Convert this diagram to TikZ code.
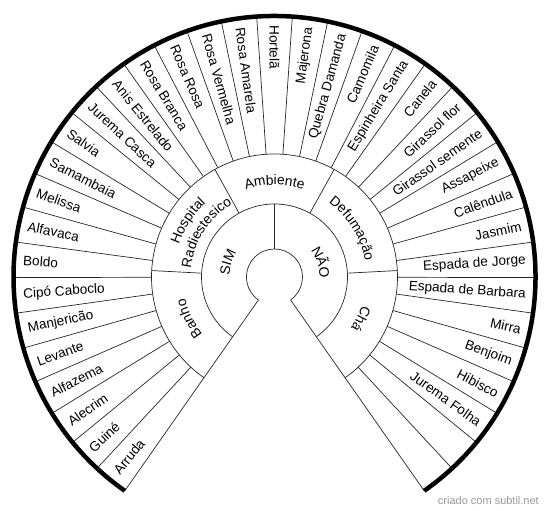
\documentclass[tikz,border=0pt]{standalone}
\usepackage{fontspec}
\setmainfont{Liberation Sans}
\usetikzlibrary{calc,decorations.text}
\newcommand\catfont{\fontsize{13.8}{16}\selectfont}
\begin{document}
\begin{tikzpicture}[x=1pt,y=1pt,
  thinline/.style={draw=black!85,line width=0.7pt},
  itemtext/.style={inner sep=0pt,font=\fontsize{13.6}{14}\selectfont},
  arctext/.style={decorate,decoration={text along path,text align=center,text={|\catfont|#1}}},
  marktext/.style={inner sep=0pt,font=\fontsize{11}{12}\selectfont,text=black!40}]
\useasboundingbox (0,0) rectangle (550,511);
\coordinate (c) at (274.5,234);
\pgfmathsetmacro{\dd}{290/37}
% rings
\draw[thinline] ($(c)+(-55:28)$) arc[start angle=-55,end angle=235,radius=28];
\draw[thinline] ($(c)+(-55:73)$) arc[start angle=-55,end angle=235,radius=73];
\draw[thinline] ($(c)+(-55:123)$) arc[start angle=-55,end angle=235,radius=123];
% end boundaries
\draw[thinline] ($(c)+(-55:28)$) -- ($(c)+(-55:261)$);
\draw[thinline] ($(c)+(235:28)$) -- ($(c)+(235:261)$);
% SIM / NAO divider
\draw[thinline] ($(c)+(90:28)$) -- ($(c)+(90:73)$);
% category dividers
\foreach \a in {177,119,61,3}{
  \draw[thinline] ($(c)+(\a:73)$) -- ($(c)+(\a:123)$);
}
% item dividers
\foreach \k in {1,...,36}{
  \pgfmathsetmacro{\a}{235-\k*\dd}
  \draw[thinline] ($(c)+(\a:123)$) -- ($(c)+(\a:261)$);
}
% outer thick arc
\draw[line width=4.5pt,black] ($(c)+(-55:261)$) arc[start angle=-55,end angle=235,radius=261];
% inner labels (curved)
\path[arctext=SIM] ($(c)+(200:45)$) arc[start angle=200,end angle=125,radius=45];
\path[arctext=NÃO] ($(c)+(55:45)$) arc[start angle=55,end angle=-20,radius=45];
% category labels (curved)
\path[arctext=Banho] ($(c)+(236:92)$) arc[start angle=236,end angle=176,radius=92];
\path[arctext=Hospital] ($(c)+(177:101)$) arc[start angle=177,end angle=117,radius=101];
\path[arctext=Radiestesico] ($(c)+(182:84)$) arc[start angle=182,end angle=112,radius=84];
\path[arctext=Ambiente] ($(c)+(120:92)$) arc[start angle=120,end angle=60,radius=92];
\path[arctext=Defumação] ($(c)+(64:92)$) arc[start angle=64,end angle=0,radius=92];
\path[arctext=Chá] ($(c)+(4:92)$) arc[start angle=4,end angle=-56,radius=92];
% item labels
\foreach \t [count=\i from 0] in {Arruda,Guiné,Alecrim,Alfazema,Levante,Manjericão,Cipó Caboclo,Boldo,Alfavaca,Melissa,Samambaia,Salvia,Jurema Casca,Anis Estrelado,Rosa Branca,Rosa Rosa,Rosa Vermelha,Rosa Amarela,Hortelã,Majerona,Quebra Damanda,Camomila,Espinheira Santa,Canela,Girassol flor,Girassol semente,Assapeixe,Calêndula,Jasmim,Espada de Jorge,Espada de Barbara,Mirra,Benjoim,Hibisco,Jurema Folha}{
  \pgfmathsetmacro{\a}{235-(\i+0.5)*\dd}
  \ifnum\i<19
    \pgfmathsetmacro{\r}{\a+180}
    \node[itemtext,anchor=west,rotate=\r] (it\i) at ($(c)+(\a:252)$) {\t};
  \else
    \node[itemtext,anchor=east,rotate=\a] (it\i) at ($(c)+(\a:252)$) {\t};
  \fi
}
% watermark
\node[marktext,anchor=base east] (mark) at (539,6) {criado com subtil.net};
\end{tikzpicture}
\end{document}
